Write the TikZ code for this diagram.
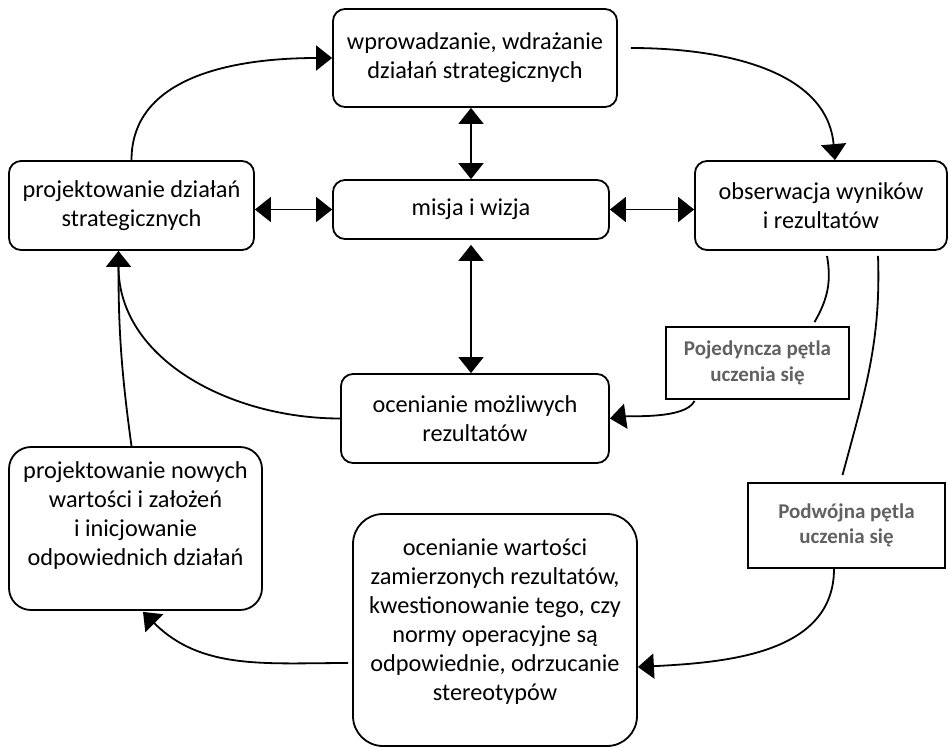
\documentclass[tikz,border=0pt]{standalone}
\usepackage{fontspec}
\setmainfont{Carlito}
\usetikzlibrary{arrows.meta,calc}
\newcommand\mainsz{\fontsize{24.3}{29}\selectfont}
\newcommand\loopsz{\fontsize{21}{25.5}\selectfont\bfseries}
\begin{document}
\begin{tikzpicture}[x=1pt,y=-1pt,
  box/.style={draw, line width=1.8pt, rounded corners=12pt, align=center, font=\mainsz, inner sep=2pt},
  txt/.style={align=center, font=\mainsz, inner sep=0pt},
  lbox/.style={draw, line width=1.8pt, align=center, font=\loopsz, text=black!62, inner sep=2pt},
  conn/.style={line width=1.8pt},
  arr/.style={conn, -{Triangle[length=16pt,width=25pt]}},
  darr/.style={conn, {Triangle[length=16pt,width=25pt]}-{Triangle[length=16pt,width=25pt]}}]
\useasboundingbox (0,0) rectangle (948,747);
% boxes
\node[box, minimum width=284pt, minimum height=98pt] (wd) at (475,58) {wprowadzanie, wdrażanie\\działań strategicznych};
\node[box, minimum width=245pt, minimum height=89pt] (pd) at (131.5,205.5) {projektowanie działań\\strategicznych};
\node[box, minimum width=276pt, minimum height=59pt] (mw) at (471,209.5) {misja i wizja};
\node[box, minimum width=252pt, minimum height=89pt] (ob) at (821,205.5) {obserwacja wyników\\i rezultatów};
\node[box, minimum width=268pt, minimum height=89pt] (om) at (475,418.5) {ocenianie możliwych\\rezultatów};
\node[box, rounded corners=22pt, minimum width=253pt, minimum height=163pt] (pn) at (135.5,528.5) {};
\node[txt] (pnt) at (135.5,516) {projektowanie nowych\\wartości i założeń\\i inicjowanie\\odpowiednich działań};
\node[box, rounded corners=30pt, minimum width=284pt, minimum height=232pt] (ow) at (495,630) {};
\node[txt] (owt) at (495,622) {ocenianie wartości\\zamierzonych rezultatów,\\kwestionowanie tego, czy\\normy operacyjne są\\odpowiednie, odrzucanie\\stereotypów};
\node[lbox, minimum width=183pt, minimum height=72pt] (pj) at (757.5,363) {Pojedyncza pętla\\uczenia się};
\node[lbox, minimum width=197pt, minimum height=85pt] (pw) at (846.5,525.5) {Podwójna pętla\\uczenia się};
% connectors
\draw[arr] (pd.north) to[out=90,in=180] (wd.west);
\draw[arr] ($(wd.east)+(13,-10)$) to[out=0,in=95] ($(ob.north)+(14,0)$);
\draw[darr] (mw.north |- wd.south) -- (mw.north);
\draw[darr] (pd.east |- mw.west) -- (mw.west);
\draw[darr] (mw.east) -- (ob.west |- mw.east);
\draw[darr, shorten <=5pt] (mw.south) -- (mw.south |- om.north);
\coordinate (pdin) at ($(pd.south)+(-13,0)$);
\draw[arr] (om.west) to[out=180,in=-90] (pdin);
\draw[conn, shorten >=8pt] ($(pn.north)+(-4,0)$) to[bend left=4] (pdin);
\draw[conn] ($(ob.south)+(6,5)$) to[out=-80,in=60] ($(pj.north)+(57,-4)$);
\draw[arr] ($(pj.south)+(-63,1)$) to[out=-115,in=8,looseness=0.6] (om.east);
\draw[conn] ($(ob.south)+(57,5)$) to[out=-88,in=75] ($(pw.north)+(-4,-7)$);
\draw[arr] ($(pw.south)+(-12.5,0)$) to[out=-90,in=3] ($(ow.east)+(0,37)$);
\draw[arr] ($(ow.west)+(-4,33)$) to[out=180,in=-45] ($(pn.south)+(7.5,1)$);
\end{tikzpicture}
\end{document}
